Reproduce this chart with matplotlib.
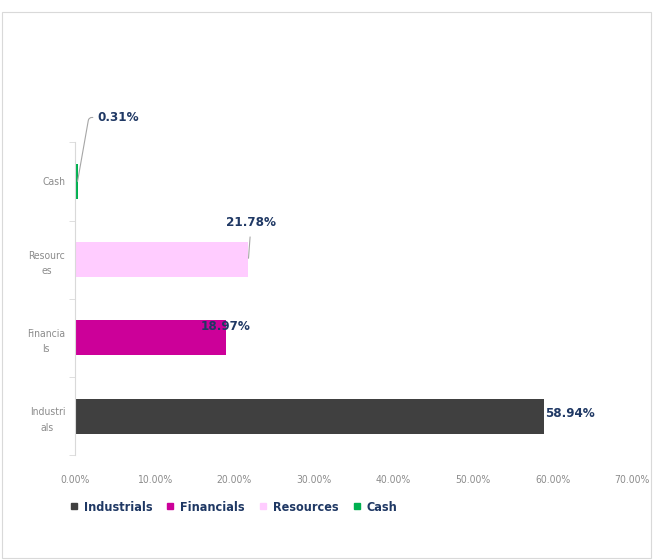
import matplotlib
matplotlib.use("Agg")
import matplotlib.pyplot as plt
from matplotlib.patches import Rectangle
from matplotlib.lines import Line2D

categories = ["Industri\nals", "Financia\nls", "Resourc\nes", "Cash"]
names = ["Industrials", "Financials", "Resources", "Cash"]
values = [58.94, 18.97, 21.78, 0.31]
labels = ["58.94%", "18.97%", "21.78%", "0.31%"]
colors = ["#404040", "#CC0099", "#FFCCFF", "#00B050"]
xticks = [0, 10, 20, 30, 40, 50, 60, 70]
xticklabels = ["0.00%", "10.00%", "20.00%", "30.00%", "40.00%", "50.00%", "60.00%", "70.00%"]

FONT = ["DejaVu Sans"]
NAVY = "#1F3864"

fig = plt.figure(figsize=(6.53, 5.6), dpi=100)
ax = fig.add_axes([0.115, 0.187, 0.853, 0.559])

ypos = list(range(len(values)))
ax.barh(ypos, values, height=0.45, color=colors)
ax.set_xlim(0, 70)
ax.set_ylim(-0.5, 3.5)
ax.set_xticks(xticks)
ax.set_xticklabels(xticklabels, family=FONT, fontsize=7.5, color="#8c8c8c", stretch="condensed")
ax.set_yticks(ypos)
ax.set_yticklabels(categories, family=FONT, fontsize=7.5, color="#8c8c8c", linespacing=1.7,
                   stretch="condensed", multialignment="center")
ax.set_yticks([-0.5, 0.5, 1.5, 2.5, 3.5], minor=True)
ax.tick_params(axis="y", which="major", length=0, pad=7)
ax.tick_params(axis="y", which="minor", length=4, color="#d9d9d9", direction="out")
ax.tick_params(axis="x", length=0, pad=14)
for s in ["top", "right", "bottom"]:
    ax.spines[s].set_visible(False)
ax.spines["left"].set_color("#d9d9d9")

lab_style = dict(family=FONT, fontsize=9.5, fontweight="bold", color=NAVY, stretch="condensed")
ax.annotate(labels[0], (values[0], 0), xytext=(1, 2), textcoords="offset points",
            ha="left", va="center", **lab_style)
ax.annotate(labels[1], (values[1], 1), xytext=(0, 8), textcoords="offset points",
            ha="center", va="center", **lab_style)
ax.annotate(labels[2], (values[2], 2), xytext=(2, 27), textcoords="offset points",
            ha="center", va="center",
            arrowprops=dict(arrowstyle="-", color="#a6a6a6", lw=0.8, shrinkA=4, shrinkB=1),
            **lab_style)
ax.annotate(labels[3], (values[3], 3), xytext=(14, 46), textcoords="offset points",
            ha="left", va="center",
            arrowprops=dict(arrowstyle="-", color="#a6a6a6", lw=0.8, shrinkA=1, shrinkB=0,
                            connectionstyle="angle,angleA=0,angleB=80,rad=3"),
            **lab_style)

handles = [Line2D([0], [0], marker="s", linestyle="none", markersize=4,
                  markerfacecolor=c, markeredgecolor=c) for c in colors]
leg = fig.legend(handles, names, loc="center left", bbox_to_anchor=(0.085, 0.094),
                 ncol=4, frameon=False, handletextpad=0.05, columnspacing=0.7,
                 handlelength=1.5, borderpad=0.2,
                 prop=dict(family=FONT, size=9, weight="bold", stretch="condensed"))
for t in leg.get_texts():
    t.set_color(NAVY)

fig.patches.append(Rectangle((0.003, 0.003), 0.994, 0.975, transform=fig.transFigure,
                             fill=False, edgecolor="#d9d9d9", lw=0.8))
fig.savefig("out.png", dpi=100, facecolor="white")
